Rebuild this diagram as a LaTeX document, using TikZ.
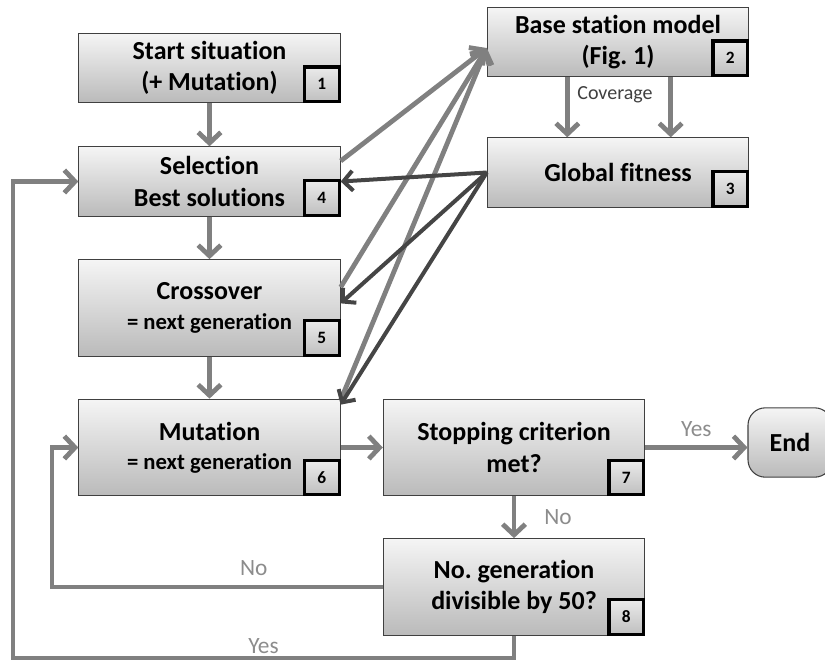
\documentclass[tikz,border=0pt]{standalone}
\usepackage{fontspec}
\setmainfont{Carlito}[Ligatures={NoCommon}]
\usetikzlibrary{arrows.meta, calc, positioning}
\frenchspacing

\newcommand{\subline}[1]{{\fontsize{17}{21}\selectfont #1}}

\tikzset{
	box/.style={draw=black!75, line width=0.8pt, top color=black!4, bottom color=black!27,
		align=center, inner sep=0pt, minimum width=196pt,
		font=\bfseries\fontsize{19.5}{23.5}\selectfont},
	lowbox/.style={box, minimum height=52pt},
	highbox/.style={box, minimum height=72.5pt},
	endbox/.style={box, minimum width=63pt, minimum height=52pt, rounded corners=13pt},
	numbox/.style={draw=black, line width=2.4pt, top color=black!8, bottom color=black!25, minimum size=26pt,
		inner sep=0pt, anchor=south east, font=\bfseries\fontsize{13}{13}\selectfont},
	flow/.style={draw=black!50, line width=3.6pt, -{Straight Barb[length=8pt,width=17pt]}},
	back/.style={draw=black!73, line width=3pt, -{Straight Barb[length=7pt,width=15pt]}},
	lbl/.style={text=black!45, inner sep=0pt, font=\fontsize{17.5}{17.5}\selectfont}
}

\begin{document}
\begin{tikzpicture}[x=0.75pt, y=-0.75pt]
	
	\useasboundingbox (0,0) rectangle (825,662);
	
	% Boxes
	\node[lowbox] (box1) at (209.5,68) {Start situation\\(+ Mutation)};
	\node[lowbox] (box2) at (618,42) {Base station model\\(Fig. 1)};
	\node[lowbox] (box3) at (618,172.5) {Global fitness};
	\node[lowbox] (box4) at (209.5,181.5) {Selection\\Best solutions};
	\node[highbox] (box5) at (209.5,308) {Crossover\\[-1.5pt]\subline{= next generation}};
	\node[highbox] (box6) at (209.5,447.5) {Mutation\\[-1.5pt]\subline{= next generation}};
	\node[highbox] (box7) at (514,447.5) {Stopping criterion\\met?};
	\node[highbox] (box8) at (514,587) {No. generation\\divisible by 50?};
	\node[endbox] (end) at (790,442.5) {End};
	
	% Numbers
	\foreach \b/\n in {box1/1, box2/2, box3/3, box4/4, box5/5, box6/6, box7/7, box8/8}
	{
		\node[numbox] (num\n) at (\b.south east) {\n};
	}
	
	\coordinate (nox) at (52,587);
	\coordinate (yesl) at (13,658);
	
	% Main flow
	\draw[flow] (box1) -- (box4);
	\draw[flow] (box4) -- (box5);
	\draw[flow] (box5) -- (box6);
	\draw[flow] (box6) -- (box7);
	\draw[flow] (box7.east) -- node[lbl, above=6.5pt] (yes1) {Yes} (box7.east -| end.west);
	\draw[flow] (box7) -- node[lbl, right=21pt] (no1) {No} (box8);
	\draw[flow] (box8.west) -- node[lbl, above=7pt, pos=0.39] (no2) {No} (nox) |- (box6.west);
	\draw[flow] (box8.south) |- node[lbl, above=1.5pt, pos=0.75] (yes2) {Yes} (yesl) |- (box4.west);
	
	% Coverage
	\draw[flow] ([xshift=-38pt]box2.south) -- ([xshift=-38pt]box3.north);
	\draw[flow] ([xshift=39.5pt]box2.south) -- ([xshift=39.5pt]box3.north);
	\node[text=black!75, inner sep=0pt, font=\fontsize{15}{15}\selectfont] (cov) at (615,95) {Coverage};
	
	% To base station model
	\foreach \s/\d in {box4/-11pt, box5/-21pt, box6/-1pt}
	{
		\draw[flow] ([yshift=\d]\s.north east) -- ([yshift=-4.5pt]box2.west);
	}
	
	% From global fitness
	\draw[back] (box3.west) -- (box4.east);
	\draw[back] (box3.west) -- ([yshift=3.5pt]box5.east);
	\draw[back] (box3.west) -- ([yshift=-4.5pt]box6.north east);
	
\end{tikzpicture}
\end{document}
